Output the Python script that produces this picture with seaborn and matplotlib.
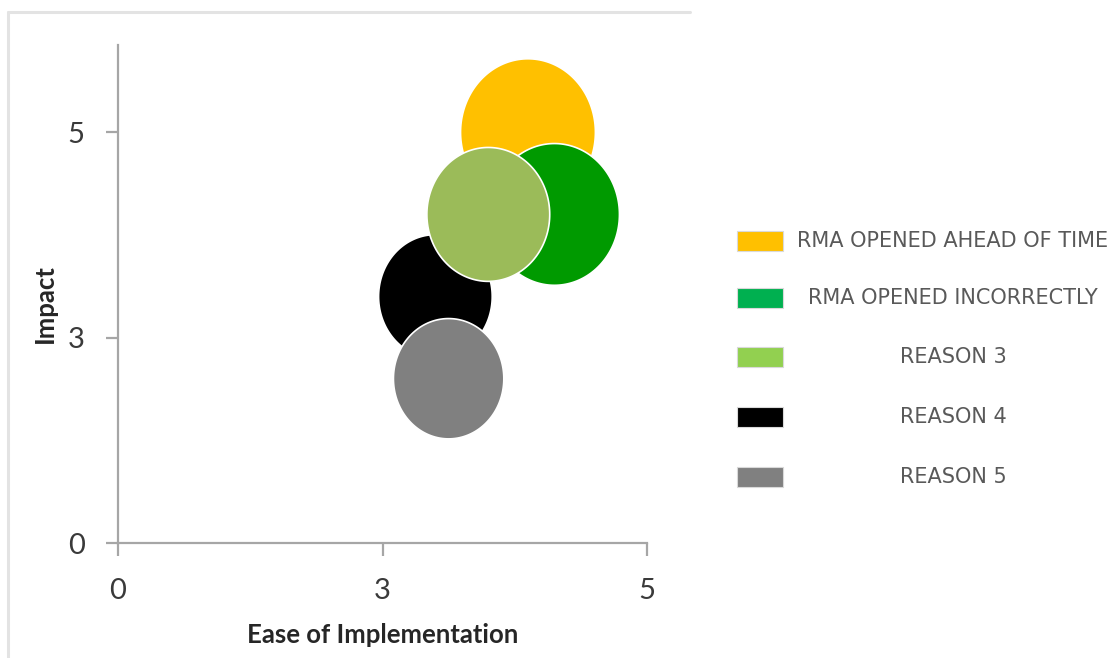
import numpy as np
import pandas as pd
import matplotlib
matplotlib.use("Agg")
import matplotlib.pyplot as plt
from matplotlib.path import Path
from matplotlib.lines import Line2D
from matplotlib.patches import Rectangle
import seaborn as sns

# ---- data -------------------------------------------------------------
categories = [
    "RMA OPENED AHEAD OF TIME",
    "RMA OPENED INCORRECTLY",
    "REASON 3",
    "REASON 4",
    "REASON 5",
]
ease = [4.1, 4.3, 3.8, 3.4, 3.5]          # Ease of Implementation
impact = [5.0, 4.2, 4.2, 3.4, 2.4]        # Impact
bubble_size = [10.0, 9.3, 8.3, 7.1, 6.7]  # relative bubble area
bubble_colors = ["#FFC000", "#009A00", "#9BBB59", "#000000", "#808080"]
legend_colors = ["#FFC000", "#00B050", "#92D050", "#000000", "#808080"]
draw_order = [0, 1, 3, 2, 4]              # back-to-front stacking of bubbles
tick_values = [0, 3, 5]

# ---- axis scale: tick values 0, 3, 5 sit at equal spacing --------------
def forward(v):
    v = np.asarray(v, dtype=float)
    return np.where(v <= 3, v / 3.0, 1.0 + (v - 3.0) / 2.0)

def inverse(p):
    p = np.asarray(p, dtype=float)
    return np.where(p <= 1, 3.0 * p, 3.0 + 2.0 * (p - 1.0))

# slightly tall elliptical bubble marker
theta = np.linspace(0, 2 * np.pi, 181)
ellipse = Path(np.column_stack([np.cos(theta), 1.09 * np.sin(theta)]), closed=True)

df = pd.DataFrame({
    "category": categories,
    "ease": ease,
    "impact": impact,
    "size": bubble_size,
}).iloc[draw_order]

sns.set_theme(style="white")
plt.rcParams["font.family"] = ["Lato", "DejaVu Sans"]

W, H = 1119, 658
fig = plt.figure(figsize=(W / 100, H / 100), dpi=100)
fig.patch.set_facecolor("white")

ax = fig.add_axes([118 / W, 1 - 543 / H, (647 - 118) / W, (543 - 45) / H])
ax.set_xscale("function", functions=(forward, inverse))
ax.set_yscale("function", functions=(forward, inverse))

palette = dict(zip(categories, bubble_colors))
sns.scatterplot(
    data=df, x="ease", y="impact", hue="category", palette=palette,
    s=df["size"].to_numpy() * 1120, marker=ellipse,
    edgecolor=(1, 1, 1, 0.7), linewidth=1.2, alpha=1.0,
    legend=False, ax=ax, clip_on=False, zorder=3,
)

ax.set_xlim(0, 5)
ax.set_ylim(0, 5.85)
ax.set_xticks(tick_values)
ax.set_yticks(tick_values)
ax.set_xticklabels([str(t) for t in tick_values])
ax.set_yticklabels([str(t) for t in tick_values])
ax.xaxis.set_minor_locator(matplotlib.ticker.NullLocator())
ax.yaxis.set_minor_locator(matplotlib.ticker.NullLocator())

axis_grey = "#A6A6A6"
for side in ["top", "right"]:
    ax.spines[side].set_visible(False)
for side in ["left", "bottom"]:
    ax.spines[side].set_color(axis_grey)
    ax.spines[side].set_linewidth(1.6)
ax.tick_params(axis="both", which="major", direction="out", length=9,
               width=1.6, color=axis_grey, labelsize=21, labelcolor="#3A3A3A",
               bottom=True, left=True)
ax.tick_params(axis="x", pad=16)
ax.tick_params(axis="y", pad=15)
ax.set_facecolor("none")

ax.set_xlabel("Ease of Implementation", fontsize=18.5, fontweight="bold",
              color="#262626", labelpad=14)
ax.set_ylabel("Impact", fontsize=18.5, fontweight="bold", color="#262626")
ax.yaxis.set_label_coords(-0.115, 0.48)

# chart-area frame along the top and left edges
fig.add_artist(Line2D([8 / W, 690 / W], [1 - 12 / H, 1 - 12 / H],
                      color="#E3E3E3", lw=2.2, transform=fig.transFigure))
fig.add_artist(Line2D([8 / W, 8 / W], [1 - 12 / H, 0],
                      color="#E3E3E3", lw=2.2, transform=fig.transFigure))

# legend: colour keys with centred labels
row_y = [241, 298, 357, 417, 477]
for name, col, yy in zip(categories, legend_colors, row_y):
    fig.add_artist(Rectangle((737 / W, 1 - (yy + 10) / H), 46 / W, 20 / H,
                             facecolor=col, edgecolor="#D9D9D9", lw=0.8,
                             transform=fig.transFigure))
    fig.text(953 / W, 1 - yy / H, name, ha="center", va="center",
             fontsize=15, color="#595959", family=["DejaVu Sans"])

fig.savefig("out.png", dpi=100, facecolor="white")
